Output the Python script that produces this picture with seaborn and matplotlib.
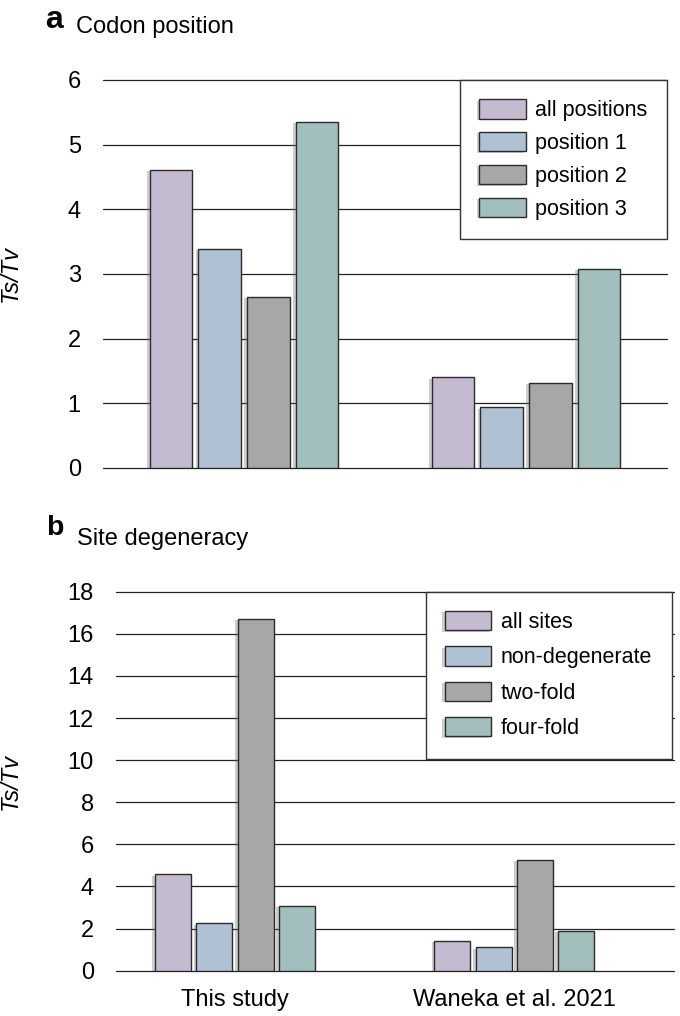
import matplotlib
matplotlib.use("Agg")
import matplotlib.pyplot as plt
import matplotlib.patheffects as pe
import seaborn as sns
import pandas as pd

# data
studies = ["This study", "Waneka et al. 2021"]

codon_labels = ["all positions", "position 1", "position 2", "position 3"]
codon_this = [4.61, 3.39, 2.65, 5.35]
codon_waneka = [1.40, 0.94, 1.32, 3.08]

site_labels = ["all sites", "non-degenerate", "two-fold", "four-fold"]
site_this = [4.58, 2.25, 16.70, 3.07]
site_waneka = [1.42, 1.11, 5.26, 1.90]

bar_colors = ["#c3b7d4", "#aac1da", "#a7a7a7", "#9ec4c1"]


def make_df(labels, this_vals, waneka_vals):
    rows = []
    for lab, v in zip(labels, this_vals):
        rows.append({"study": studies[0], "kind": lab, "tstv": v})
    for lab, v in zip(labels, waneka_vals):
        rows.append({"study": studies[1], "kind": lab, "tstv": v})
    return pd.DataFrame(rows)


sns.set_style("white")
plt.rcParams["font.family"] = ["Liberation Sans", "DejaVu Sans"]
plt.rcParams["text.color"] = "black"
plt.rcParams["axes.labelcolor"] = "black"
plt.rcParams["xtick.color"] = "black"
plt.rcParams["ytick.color"] = "black"

fig = plt.figure(figsize=(6.8, 10.16), dpi=100)
ax_a = fig.add_axes([0.1515, 0.5394, 0.8294, 0.3819])
ax_b = fig.add_axes([0.1706, 0.0446, 0.8206, 0.3730])

shadow = [pe.SimplePatchShadow(offset=(-2, -1), shadow_rgbFace="0.45", alpha=0.35), pe.Normal()]


def draw_panel(ax, df, labels, width, gap, yticks, xlim, show_x, ylab_x, lspace, anchor_x):
    sns.barplot(data=df, x="study", y="tstv", hue="kind", hue_order=labels,
                order=studies, palette=bar_colors, width=width, gap=gap,
                edgecolor="#2b2b2b", linewidth=1.0, legend=False, ax=ax, zorder=3)
    for cont in ax.containers:
        for p in cont.patches:
            p.set_path_effects(shadow)
    ax.set_axisbelow(True)
    ax.yaxis.grid(True, color="#222222", linewidth=0.9)
    ax.xaxis.grid(False)
    for s in ax.spines.values():
        s.set_visible(False)
    ax.set_ylim(yticks[0], yticks[-1])
    ax.set_yticks(yticks)
    for gl in ax.get_ygridlines():
        gl.set_clip_on(False)
    ax.set_xlim(*xlim)
    ax.tick_params(axis="y", length=0, pad=16, labelsize=17)
    ax.tick_params(axis="x", length=0, pad=13, labelsize=17)
    if not show_x:
        ax.set_xticklabels([])
    ax.set_xlabel("")
    ax.set_ylabel("Ts/Tv", fontsize=17, style="italic")
    ax.yaxis.set_label_coords(ylab_x, 0.5)
    leg = ax.legend(ax.containers, labels, loc="upper right",
                    bbox_to_anchor=(anchor_x, 1.0), borderaxespad=0, fontsize=15.5,
                    fancybox=False, framealpha=1, edgecolor="#333333",
                    handlelength=2.15, handleheight=1.0, labelspacing=lspace,
                    handletextpad=0.45, borderpad=0.9)
    leg.get_frame().set_linewidth(1.0)
    leg.set_zorder(5)


draw_panel(ax_a, make_df(codon_labels, codon_this, codon_waneka), codon_labels,
           0.69, 0.12, [0, 1, 2, 3, 4, 5, 6], (-0.5, 1.5), False, -0.1436, 0.5, 1.0)
draw_panel(ax_b, make_df(site_labels, site_this, site_waneka), site_labels,
           0.59, 0.125, [0, 2, 4, 6, 8, 10, 12, 14, 16, 18], (-0.426, 1.572), True, -0.168,
           0.62, 0.996)

fig.text(45 / 680, 1 - 28 / 1016, "a", fontsize=23, fontweight="bold", va="baseline")
fig.text(76 / 680, 1 - 33 / 1016, "Codon position", fontsize=17, va="baseline")
fig.text(46 / 680, 1 - 535 / 1016, "b", fontsize=20.5, fontweight="bold", va="baseline")
fig.text(77 / 680, 1 - 545 / 1016, "Site degeneracy", fontsize=17, va="baseline")

fig.savefig("out.png", dpi=100)
